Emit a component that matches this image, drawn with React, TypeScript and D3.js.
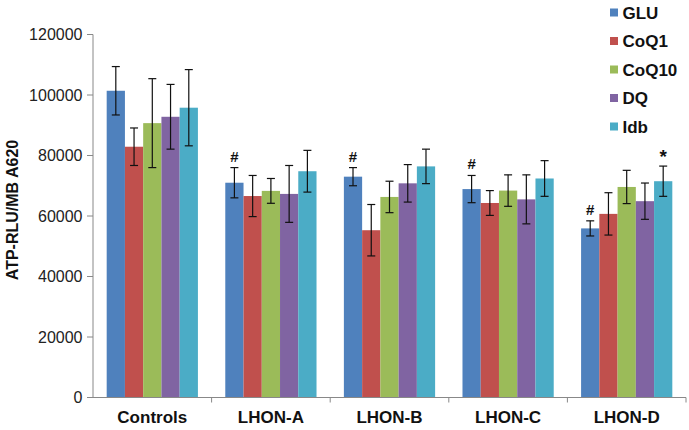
import React from "react";
import * as d3 from "d3";

const categories = ["Controls", "LHON-A", "LHON-B", "LHON-C", "LHON-D"];
const seriesNames = ["GLU", "CoQ1", "CoQ10", "DQ", "Idb"];
const colors = ["#4F81BD", "#C0504D", "#9BBB59", "#8064A2", "#4BACC6"];
const GLU = [101400, 71000, 73000, 68900, 55900];
const CoQ1 = [82900, 66600, 55300, 64300, 60700];
const CoQ10 = [90700, 68300, 66300, 68400, 69600];
const DQ = [92800, 67300, 70800, 65500, 64900];
const Idb = [95800, 74800, 76400, 72400, 71500];
const errGLU = [8000, 5000, 3000, 4500, 2500];
const errCoQ1 = [6200, 6800, 8500, 4100, 7000];
const errCoQ10 = [14700, 4100, 5200, 5200, 5500];
const errDQ = [10700, 9400, 6200, 8100, 6000];
const errIdb = [12600, 6900, 5700, 5900, 5000];
const yTicks = [0, 20000, 40000, 60000, 80000, 100000, 120000];
// annotations: [categoryIndex, seriesIndex, symbol]
const marks: [number, number, string][] = [
  [1, 0, "#"], [2, 0, "#"], [3, 0, "#"], [4, 0, "#"], [4, 4, "*"],
];

const values = [GLU, CoQ1, CoQ10, DQ, Idb];
const errors = [errGLU, errCoQ1, errCoQ10, errDQ, errIdb];

export default function App() {
  const W = 689, H = 430;
  const left = 93, right = 686, top = 34.5, bottom = 397.5;
  const y = d3.scaleLinear().domain([0, 120000]).range([bottom, top]);
  const x = d3.scaleBand().domain(categories).range([left, right]).paddingInner(0).paddingOuter(0);
  const bw = x.bandwidth() / 6.5;
  const font = "'Liberation Sans', Arial, sans-serif";

  return (
    <svg width={W} height={H} style={{ position: "absolute", left: 0, top: 0, background: "#fff" }} fontFamily={font}>
      {/* bars */}
      {categories.map((c, ci) =>
        seriesNames.map((s, si) => {
          const x0 = (x(c) as number) + bw * 0.75 + si * bw;
          const v = values[si][ci];
          return (
            <rect key={c + s} x={x0} y={y(v)} width={bw} height={bottom - y(v)} fill={colors[si]} />
          );
        })
      )}
      {/* error bars */}
      {categories.map((c, ci) =>
        seriesNames.map((s, si) => {
          const cx = (x(c) as number) + bw * 0.75 + si * bw + bw / 2;
          const v = values[si][ci];
          const e = errors[si][ci];
          return (
            <g key={"e" + c + s} stroke="#111" strokeWidth={1.2}>
              <line x1={cx} x2={cx} y1={y(v + e)} y2={y(v - e)} />
              <line x1={cx - 4} x2={cx + 4} y1={y(v + e)} y2={y(v + e)} />
              <line x1={cx - 4} x2={cx + 4} y1={y(v - e)} y2={y(v - e)} />
            </g>
          );
        })
      )}
      {/* annotations */}
      {marks.map(([ci, si, sym], i) => {
        const cx = (x(categories[ci]) as number) + bw * 0.75 + si * bw + bw / 2;
        const v = values[si][ci] + errors[si][ci];
        return (
          <text key={"m" + i} x={cx} y={y(v) - (sym === "*" ? 3 : 6)} textAnchor="middle" fontSize={sym === "*" ? 19 : 15} fontWeight="bold" fill="#111">
            {sym}
          </text>
        );
      })}
      {/* y axis */}
      <line x1={left} x2={left} y1={top} y2={bottom} stroke="#888" />
      {yTicks.map((t) => (
        <g key={"t" + t}>
          <line x1={left - 6} x2={left} y1={y(t)} y2={y(t)} stroke="#888" />
          <text x={82.5} y={y(t)} dy="0.36em" textAnchor="end" fontSize={16} fill="#222">
            {t}
          </text>
        </g>
      ))}
      {/* x axis */}
      <line x1={left} x2={right} y1={bottom} y2={bottom} stroke="#888" />
      {categories.map((c, i) => (
        <line key={"xt" + i} x1={(x(c) as number) + x.bandwidth()} x2={(x(c) as number) + x.bandwidth()} y1={bottom} y2={bottom + 5} stroke="#888" />
      ))}
      {categories.map((c) => (
        <text key={"xl" + c} x={(x(c) as number) + x.bandwidth() / 2} y={423} textAnchor="middle" fontSize={17} fontWeight="bold" fill="#111">
          {c}
        </text>
      ))}
      {/* y label */}
      <text transform={`translate(18,210) rotate(-90)`} textAnchor="middle" fontSize={16} fontWeight="bold" fill="#111">
        ATP-RLU/MB A620
      </text>
      {/* legend */}
      {seriesNames.map((s, i) => (
        <g key={"lg" + s} transform={`translate(610,${12.5 + i * 28.5})`}>
          <rect x={0} y={-4} width={8} height={8} fill={colors[i]} />
          <text x={12.5} y={0} dy="0.36em" fontSize={17} fontWeight="bold" fill="#111">
            {s}
          </text>
        </g>
      ))}
    </svg>
  );
}
